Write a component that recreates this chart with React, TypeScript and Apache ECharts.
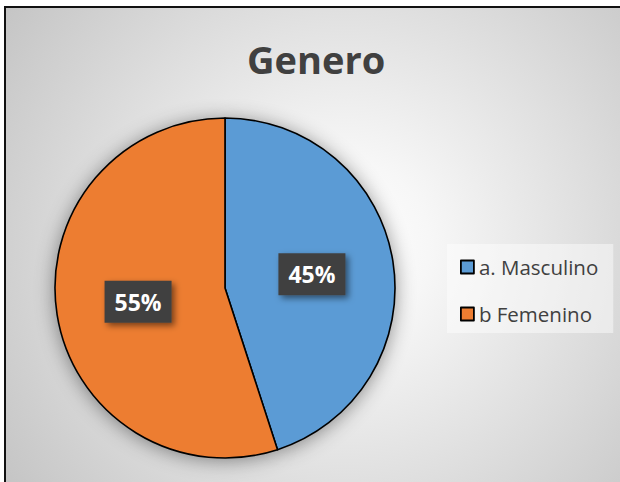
import React, { useEffect, useRef } from "react";
import * as echarts from "echarts";

const titleText = "Genero";
const categories = ["a. Masculino", "b Femenino"];
const values = [45, 55];
const colors = ["#5B9BD5", "#ED7D31"];

const FONT = "'Open Sans', 'Noto Sans', sans-serif";

export default function App() {
  const ref = useRef<HTMLDivElement>(null);
  useEffect(() => {
    if (!ref.current) return;
    const chart = echarts.init(ref.current, null, { renderer: "svg" });
    const data = categories.map((name, i) => ({
      name,
      value: values[i],
      itemStyle: { color: colors[i] },
    }));
    chart.setOption({
      animation: false,
      graphic: [
        {
          type: "rect",
          z: -10,
          silent: true,
          shape: { x: 5, y: 7, width: 700, height: 600 },
          style: {
            fill: {
              type: "radial",
              global: true,
              x: 345,
              y: 245,
              r: 420,
              colorStops: [
                { offset: 0, color: "#ffffff" },
                { offset: 0.2, color: "#f7f7f7" },
                { offset: 1, color: "#c4c4c4" },
              ],
            },
            stroke: "#111",
            lineWidth: 2,
          },
        },
      ],
      title: {
        text: titleText,
        left: 242,
        top: 31,
        textStyle: {
          fontFamily: FONT,
          fontSize: 38,
          fontWeight: "bold",
          color: "#404040",
          lineHeight: 46,
        },
      },
      legend: {
        orient: "vertical",
        left: 447,
        top: 244,
        data: categories,
        padding: [10, 15, 6, 13],
        backgroundColor: "rgba(255,255,255,0.45)",
        itemWidth: 13,
        itemHeight: 13,
        itemGap: 21,
        icon: "rect",
        itemStyle: { borderColor: "#000", borderWidth: 1.8 },
        textStyle: {
          fontFamily: FONT,
          fontSize: 20.5,
          lineHeight: 26,
          color: "#404040",
        },
      },
      series: [
        {
          type: "pie",
          name: "shadow",
          silent: true,
          z: 1,
          center: [225, 288],
          radius: 170,
          startAngle: 90,
          label: { show: false },
          labelLine: { show: false },
          legendHoverLink: false,
          data: data.map((d) => ({
            value: d.value,
            itemStyle: {
              color: "#999",
              shadowBlur: 20,
              shadowColor: "rgba(0,0,0,0.45)",
              shadowOffsetX: 0,
              shadowOffsetY: 2,
            },
          })),
          itemStyle: { borderWidth: 0 },
        },
        {
          type: "pie",
          name: titleText,
          z: 2,
          center: [225, 288],
          radius: 170,
          startAngle: 90,
          clockwise: true,
          data,
          itemStyle: { borderColor: "#000", borderWidth: 1.6 },
          emphasis: { disabled: true },
          label: {
            show: true,
            position: "inside",
            formatter: (p: any) => `${Math.round(p.percent)}%`,
            fontFamily: FONT,
            fontSize: 23,
            fontWeight: "bold",
            color: "#ffffff",
            lineHeight: 26,
            backgroundColor: "#404040",
            padding: [8, 10],
            shadowColor: "rgba(0,0,0,0.5)",
            shadowBlur: 6,
            shadowOffsetX: 3,
            shadowOffsetY: 3,
          },
          labelLine: { show: false },
        },
      ],
    });
    return () => chart.dispose();
  }, []);
  return (
    <div
      ref={ref}
      style={{ position: "absolute", left: 0, top: 0, width: 620, height: 482, background: "#fff" }}
    />
  );
}
